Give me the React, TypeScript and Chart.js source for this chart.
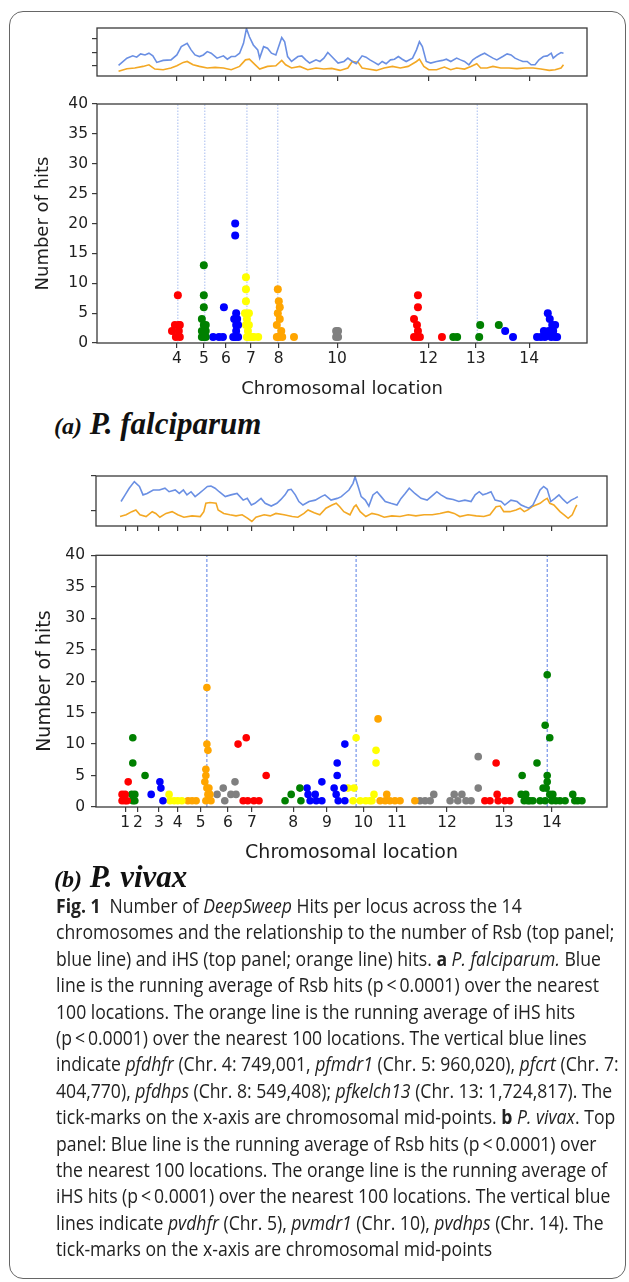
import React, { useEffect, useRef } from 'react';
import { Chart, registerables } from 'chart.js';

Chart.register(...registerables);

type Pt = [number, number];

// ================= DATA: (a) P. falciparum =================
// x = relative genome position (0-100), y = number of hits
const pfTickPos = [16.3, 21.8, 26.3, 31.4, 37.1, 49.0, 67.6, 77.3, 88.2];
const pfTickLabels = ['4', '5', '6', '7', '8', '10', '12', '13', '14'];
const pfMarkers = [16.5, 22.0, 30.6, 36.9, 77.6];

const pfChr4: Pt[] = [[15.3, 2], [15.9, 3], [16.1, 1], [16.5, 8], [16.7, 3], [16.7, 2], [16.9, 1], [16.9, 3]];
const pfChr5: Pt[] = [[21.4, 4], [21.4, 2], [21.4, 1], [21.8, 13], [21.8, 8], [21.8, 6], [21.8, 3], [21.8, 1], [22.2, 3], [22.2, 2], [22.2, 1]];
const pfChr6: Pt[] = [[23.7, 1], [24.9, 1], [25.7, 1], [25.9, 6], [28.2, 20], [28.2, 18], [27.8, 1], [28.0, 4], [28.4, 5], [28.6, 4], [28.4, 3], [28.4, 2], [28.2, 1], [28.8, 1], [28.8, 3]];
const pfChr7: Pt[] = [[30.4, 11], [30.4, 9], [30.4, 7], [30.2, 5], [31.0, 5], [30.6, 4], [30.4, 3], [30.8, 2], [30.6, 1], [31.0, 3], [31.0, 1], [31.6, 1], [32.0, 1], [32.9, 1]];
const pfChr8: Pt[] = [[36.9, 9], [37.1, 7], [37.3, 6], [36.9, 5], [37.3, 4], [36.7, 3], [37.6, 2], [37.1, 1], [37.8, 1], [36.7, 1], [40.2, 1]];
const pfChr10: Pt[] = [[48.8, 2], [49.2, 2], [48.8, 1], [49.2, 1]];
const pfChr12: Pt[] = [[65.5, 8], [65.5, 6], [64.7, 4], [65.3, 3], [65.5, 2], [64.7, 1], [65.9, 1], [65.3, 1], [70.4, 1]];
const pfChr13: Pt[] = [[72.7, 1], [73.5, 1], [78.0, 1], [78.2, 3], [82.0, 3]];
const pfChr14: Pt[] = [[83.3, 2], [84.9, 1], [89.8, 1], [90.6, 1], [91.2, 2], [91.4, 1], [92.0, 5], [92.4, 4], [92.9, 3], [93.5, 3], [92.2, 2], [93.1, 2], [92.7, 1], [93.5, 1], [93.9, 1]];

const pfGroups = [pfChr4, pfChr5, pfChr6, pfChr7, pfChr8, pfChr10, pfChr12, pfChr13, pfChr14];
const pfGroupColors = ['red', 'green', 'blue', 'yellow', 'orange', 'gray', 'red', 'green', 'blue'];

// running averages (top panel, arbitrary units)
const pfRsb: Pt[] = [[4.4, 1.02], [6.1, 1.57], [7.3, 1.74], [8.1, 1.64], [8.9, 1.89], [9.8, 1.81], [10.6, 1.94], [11.4, 1.74], [12.2, 1.25], [13.5, 1.4], [15.1, 1.44], [16.3, 1.81], [17.2, 2.43], [18.4, 2.68], [19.2, 2.19], [20.0, 1.81], [20.9, 1.69], [21.7, 1.81], [22.5, 2.06], [23.3, 1.94], [24.5, 1.57], [25.8, 1.74], [26.6, 1.49], [27.4, 1.69], [28.2, 1.69], [29.1, 1.94], [29.9, 2.68], [30.5, 3.79], [31.1, 3.17], [31.9, 2.56], [32.8, 2.19], [33.2, 1.57], [34.0, 2.43], [34.8, 2.31], [35.6, 1.94], [36.5, 1.81], [37.3, 2.68], [37.7, 3.12], [38.3, 2.8], [38.9, 1.69], [39.7, 1.32], [41.0, 1.69], [41.8, 1.74], [42.6, 1.44], [43.4, 1.2], [44.7, 1.44], [45.5, 1.32], [46.3, 1.57], [47.1, 1.99], [47.9, 1.69], [49.2, 1.2], [50.4, 1.32], [51.2, 1.57], [52.1, 1.32], [52.9, 1.15], [54.1, 1.74], [54.9, 1.64], [55.7, 1.44], [56.6, 1.25], [57.4, 1.07], [58.2, 1.32], [59.0, 1.15], [59.9, 1.44], [60.7, 1.49], [61.5, 1.69], [62.3, 1.49], [63.1, 1.32], [64.4, 1.57], [65.2, 2.19], [65.8, 2.8], [66.4, 2.43], [67.2, 1.32], [68.1, 1.2], [69.3, 1.32], [70.5, 1.4], [71.3, 1.49], [72.2, 1.32], [73.4, 1.57], [74.2, 1.44], [75.0, 1.32], [75.9, 1.07], [76.7, 1.44], [77.5, 1.64], [78.3, 1.81], [79.1, 1.94], [80.0, 1.74], [80.8, 1.57], [81.6, 1.44], [82.8, 1.69], [83.7, 1.89], [84.5, 1.81], [85.3, 1.57], [86.1, 1.44], [86.9, 1.32], [87.8, 1.32], [88.6, 1.07], [89.4, 1.07], [90.2, 1.44], [91.1, 1.69], [91.9, 1.74], [92.7, 1.94], [93.1, 1.57], [93.9, 1.81], [94.7, 1.99], [95.2, 1.94]];
const pfIhs: Pt[] = [[4.4, 0.58], [6.1, 0.78], [7.7, 0.83], [9.4, 0.95], [10.6, 1.07], [11.8, 0.75], [13.5, 0.7], [15.1, 0.83], [16.3, 1.0], [17.6, 1.25], [18.4, 1.32], [19.6, 1.07], [20.9, 0.95], [22.5, 0.83], [24.1, 0.88], [25.8, 0.83], [27.4, 0.7], [29.1, 0.95], [30.3, 1.44], [31.1, 1.49], [32.3, 1.07], [33.2, 0.75], [34.8, 0.95], [36.5, 1.0], [37.7, 1.4], [38.5, 1.07], [39.7, 0.83], [41.4, 0.95], [43.0, 0.7], [44.7, 0.83], [46.3, 0.75], [47.9, 0.8], [49.6, 0.65], [51.2, 0.83], [52.1, 1.32], [53.3, 1.25], [54.1, 0.83], [55.3, 0.75], [57.0, 0.65], [58.6, 0.83], [60.3, 0.95], [61.9, 0.83], [63.5, 0.95], [65.2, 1.32], [65.8, 1.49], [66.7, 0.95], [67.7, 0.7], [69.3, 0.7], [70.9, 0.9], [72.2, 0.7], [73.4, 0.83], [75.0, 0.75], [76.3, 0.95], [77.5, 1.15], [78.3, 0.83], [79.6, 0.83], [80.8, 0.95], [82.4, 0.83], [84.1, 0.83], [85.7, 0.78], [87.4, 0.83], [89.0, 0.83], [90.6, 0.75], [92.3, 0.65], [93.5, 0.7], [94.7, 0.83], [95.2, 1.07]];
const pfStripTicks = [1, 2, 3];

// ================= DATA: (b) P. vivax =================
const pvTickPos = [5.7, 8.2, 12.3, 16.0, 20.5, 25.8, 30.5, 38.6, 45.2, 52.3, 58.9, 68.7, 79.8, 89.2];
const pvTickLabels = ['1', '2', '3', '4', '5', '6', '7', '8', '9', '10', '11', '12', '13', '14'];
const pvMarkers = [21.7, 50.9, 88.3];

const pvChr1: Pt[] = [[5.1, 2], [5.1, 1], [5.7, 2], [5.7, 1], [6.1, 1], [6.3, 4]];
const pvChr2: Pt[] = [[7.2, 11], [7.2, 7], [7.0, 2], [7.6, 2], [7.2, 1], [7.6, 1], [9.6, 5]];
const pvChr3: Pt[] = [[10.8, 2], [12.5, 4], [12.7, 3], [13.1, 1]];
const pvChr4: Pt[] = [[14.3, 2], [14.5, 1], [15.3, 1], [16.0, 1], [16.8, 1]];
const pvChr5: Pt[] = [[18.0, 1], [18.8, 1], [19.6, 1], [21.7, 19], [21.7, 10], [21.9, 9], [21.5, 6], [21.5, 5], [21.3, 4], [21.7, 3], [22.1, 3], [21.9, 2], [22.3, 2], [21.5, 1], [22.5, 1]];
const pvChr6: Pt[] = [[23.7, 2], [24.9, 3], [25.2, 1], [26.4, 2], [27.2, 4], [27.4, 2]];
const pvChr7: Pt[] = [[27.8, 10], [29.4, 11], [28.8, 1], [29.7, 1], [30.9, 1], [31.9, 1], [33.3, 5]];
const pvChr8: Pt[] = [[37.0, 1], [38.2, 2], [39.9, 3], [40.1, 1]];
const pvChr9: Pt[] = [[41.3, 3], [41.5, 2], [41.9, 1], [42.9, 2], [43.1, 1], [44.2, 1], [44.2, 4], [46.6, 3], [47.2, 5], [47.2, 7], [47.0, 2], [47.4, 1], [48.7, 10], [48.5, 3], [48.7, 1]];
const pvChr10: Pt[] = [[49.3, 3], [50.5, 3], [50.9, 11], [50.3, 1], [51.7, 1], [52.8, 1], [54.0, 1], [54.8, 9], [54.8, 7], [54.4, 2], [53.6, 1]];
const pvChr11: Pt[] = [[55.2, 14], [55.6, 1], [56.6, 1], [56.9, 2], [57.5, 1], [58.5, 1], [59.5, 1], [62.4, 1]];
const pvChr12: Pt[] = [[63.4, 1], [64.4, 1], [65.4, 1], [66.1, 2], [69.3, 1], [70.1, 2], [70.8, 1], [71.6, 2], [72.4, 1], [73.4, 1], [74.8, 3], [74.8, 8]];
const pvChr13: Pt[] = [[76.1, 1], [77.1, 1], [78.5, 2], [78.3, 7], [78.7, 1], [80.0, 1], [81.0, 1]];
const pvChr14: Pt[] = [[83.4, 5], [86.3, 7], [87.9, 13], [88.3, 21], [88.8, 11], [88.3, 5], [88.3, 4], [88.1, 3], [88.8, 2], [83.2, 2], [83.8, 1], [84.5, 1], [85.5, 1], [86.9, 1], [87.9, 1], [89.2, 1], [90.0, 1], [90.8, 1], [91.8, 1], [93.3, 2], [93.7, 1], [94.3, 1], [95.1, 1], [89.4, 2], [87.5, 3], [84.1, 2], [84.9, 1]];

const pvGroups = [pvChr1, pvChr2, pvChr3, pvChr4, pvChr5, pvChr6, pvChr7, pvChr8, pvChr9, pvChr10, pvChr11, pvChr12, pvChr13, pvChr14];
const pvGroupColors = ['red', 'green', 'blue', 'yellow', 'orange', 'gray', 'red', 'green', 'blue', 'yellow', 'orange', 'gray', 'red', 'green'];

const pvRsb: Pt[] = [[4.9, 1.27], [5.7, 1.46], [6.5, 1.65], [7.5, 1.84], [8.5, 1.7], [9.2, 1.46], [10.0, 1.5], [11.2, 1.6], [12.4, 1.6], [13.5, 1.65], [14.3, 1.55], [15.5, 1.6], [16.3, 1.5], [17.1, 1.6], [17.8, 1.46], [18.6, 1.55], [19.4, 1.41], [20.2, 1.5], [21.0, 1.6], [21.8, 1.7], [22.5, 1.71], [23.3, 1.65], [24.1, 1.55], [25.3, 1.41], [26.4, 1.46], [27.6, 1.5], [28.8, 1.31], [29.6, 1.36], [30.4, 1.17], [31.1, 1.22], [32.3, 1.36], [33.1, 1.22], [34.3, 1.14], [35.4, 1.22], [36.2, 1.33], [37.0, 1.46], [37.6, 1.6], [38.2, 1.62], [39.0, 1.46], [39.7, 1.27], [40.5, 1.17], [41.7, 1.27], [42.9, 1.31], [44.1, 1.41], [44.8, 1.46], [46.0, 1.31], [47.2, 1.36], [48.0, 1.41], [48.7, 1.5], [49.5, 1.6], [50.3, 1.79], [50.7, 1.98], [51.3, 1.7], [51.9, 1.41], [52.7, 1.31], [53.4, 1.14], [54.2, 1.46], [55.0, 1.55], [55.8, 1.41], [56.6, 1.27], [57.7, 1.22], [58.9, 1.17], [59.7, 1.36], [60.5, 1.5], [61.3, 1.65], [62.4, 1.5], [63.6, 1.36], [64.8, 1.31], [66.0, 1.46], [66.7, 1.55], [67.5, 1.46], [68.7, 1.36], [69.9, 1.33], [71.0, 1.27], [72.2, 1.31], [73.4, 1.27], [74.2, 1.46], [75.0, 1.55], [75.7, 1.46], [76.5, 1.5], [77.3, 1.55], [78.1, 1.31], [79.3, 1.27], [80.0, 1.17], [81.2, 1.31], [82.4, 1.27], [83.2, 1.17], [84.0, 1.12], [84.7, 1.08], [85.5, 1.17], [86.3, 1.41], [86.9, 1.6], [87.6, 1.7], [88.3, 1.62], [89.0, 1.27], [89.8, 1.36], [90.6, 1.46], [91.4, 1.33], [92.2, 1.22], [93.0, 1.31], [93.7, 1.36], [94.3, 1.41]];
const pvIhs: Pt[] = [[4.7, 0.84], [5.9, 0.89], [7.0, 0.98], [7.8, 1.03], [8.6, 0.89], [9.8, 0.84], [11.0, 0.98], [11.7, 0.93], [12.5, 0.82], [13.7, 0.93], [14.9, 0.98], [16.0, 0.89], [17.2, 0.82], [18.8, 0.86], [20.4, 0.84], [21.1, 0.98], [21.5, 1.22], [22.3, 1.24], [23.5, 1.22], [23.9, 1.03], [25.0, 0.93], [26.2, 0.89], [27.4, 0.86], [28.6, 0.89], [29.7, 0.79], [30.5, 0.7], [31.3, 0.82], [32.9, 0.89], [34.1, 0.86], [35.2, 0.93], [36.8, 0.89], [38.4, 0.84], [39.5, 0.82], [40.7, 0.93], [41.5, 1.03], [42.7, 0.95], [43.8, 0.89], [45.0, 1.08], [46.2, 1.17], [47.0, 1.22], [47.7, 1.12], [48.5, 0.98], [49.7, 0.89], [50.5, 1.12], [50.9, 1.17], [51.7, 0.98], [52.8, 0.84], [54.0, 0.93], [55.2, 0.89], [56.4, 0.82], [57.9, 0.86], [59.5, 0.84], [61.1, 0.89], [62.6, 0.86], [64.2, 0.89], [65.8, 0.89], [67.3, 0.93], [68.9, 0.98], [70.1, 0.93], [71.2, 0.84], [72.8, 0.89], [74.4, 0.86], [75.9, 0.84], [77.1, 0.89], [78.3, 1.12], [79.1, 1.14], [79.8, 0.98], [81.0, 0.98], [82.2, 1.03], [83.0, 1.08], [83.8, 0.98], [84.5, 1.03], [85.3, 1.12], [86.1, 1.17], [86.9, 1.22], [87.7, 1.31], [88.3, 1.36], [88.8, 1.22], [89.6, 1.17], [90.8, 0.98], [91.6, 0.89], [92.4, 0.79], [93.2, 0.89], [93.9, 1.12], [94.1, 1.17]];
const pvStripTicks = [1, 2];

// ================= STYLE =================
const TICK_FONT = "'DejaVu Sans', sans-serif";
const AXIS_COLOR = '#3a3a3a';
const TEXT_COLOR = '#1e1e1e';
const RSB_COLOR = '#6a8fe3';
const IHS_COLOR = '#f3a824';
const COLOR_MAP: Record<string, string> = {
  red: '#ff0000', green: '#008000', blue: '#0000ff', yellow: '#ffff00', orange: '#ffa500', gray: '#808080',
};

const toXY = (pts: Pt[]) => pts.map(([x, y]) => ({ x, y }));

const frameBox = {
  id: 'frameBox',
  afterDatasetsDraw(chart: any, _args: any, opts: any) {
    const { ctx, chartArea: a } = chart;
    ctx.save();
    ctx.strokeStyle = opts.color || AXIS_COLOR;
    ctx.lineWidth = opts.width || 1.3;
    ctx.strokeRect(a.left, a.top, a.right - a.left, a.bottom - a.top);
    ctx.restore();
  },
};

interface Geo { top: number; right: number; xHeight: number; yWidth: number; }

function stripConfig(rsb: Pt[], ihs: Pt[], xTicks: number[], yTicks: number[], yMin: number, yMax: number, g: Geo): any {
  return {
    type: 'line',
    data: {
      datasets: [
        { data: toXY(rsb), borderColor: RSB_COLOR, borderWidth: 1.6, pointRadius: 0, tension: 0, fill: false },
        { data: toXY(ihs), borderColor: IHS_COLOR, borderWidth: 1.6, pointRadius: 0, tension: 0, fill: false },
      ],
    },
    options: {
      animation: false,
      responsive: false,
      layout: { padding: { left: 0, top: g.top, right: g.right, bottom: 0 } },
      plugins: { legend: { display: false }, tooltip: { enabled: false }, frameBox: { color: AXIS_COLOR, width: 1.3 } },
      scales: {
        x: {
          type: 'linear', min: 0, max: 100,
          afterBuildTicks: (s: any) => { s.ticks = xTicks.map((v) => ({ value: v })); },
          ticks: { display: false },
          grid: { drawOnChartArea: false, drawTicks: true, tickLength: 5, color: AXIS_COLOR, lineWidth: 1.2 },
          border: { display: false },
          afterFit: (s: any) => { s.height = g.xHeight; },
        },
        y: {
          type: 'linear', min: yMin, max: yMax,
          afterBuildTicks: (s: any) => { s.ticks = yTicks.map((v) => ({ value: v })); },
          ticks: { display: false },
          grid: { drawOnChartArea: false, drawTicks: true, tickLength: 5, color: AXIS_COLOR, lineWidth: 1.2 },
          border: { display: false },
          afterFit: (s: any) => { s.width = g.yWidth; },
        },
      },
    },
    plugins: [frameBox],
  };
}

interface ScatterGeo extends Geo {
  radius: number; tickSize: number; titleSize: number; yPad: number; xPad: number; xTitlePad: number; yTitlePad: number; markerColor: string; markerDash: number[];
}

function scatterConfig(groups: Pt[][], colors: string[], markers: number[], tickPos: number[], tickLabels: string[], g: ScatterGeo): any {
  const markerSets = markers.map((m) => ({
    type: 'scatter',
    data: [{ x: m, y: 0 }, { x: m, y: 40 }],
    showLine: true,
    borderColor: g.markerColor,
    borderWidth: 1,
    borderDash: g.markerDash,
    pointRadius: 0,
    order: 10,
  }));
  const pointSets = groups.map((pts, i) => ({
    type: 'scatter',
    data: toXY(pts),
    backgroundColor: COLOR_MAP[colors[i]],
    borderColor: COLOR_MAP[colors[i]],
    pointRadius: g.radius,
    pointBorderWidth: 0,
    order: 1,
  }));
  return {
    type: 'scatter',
    data: { datasets: [...markerSets, ...pointSets] },
    options: {
      animation: false,
      responsive: false,
      layout: { padding: { left: 0, top: g.top, right: g.right, bottom: 0 } },
      plugins: { legend: { display: false }, tooltip: { enabled: false }, frameBox: { color: AXIS_COLOR, width: 1.3 } },
      scales: {
        x: {
          type: 'linear', min: 0, max: 100,
          afterBuildTicks: (s: any) => { s.ticks = tickPos.map((v) => ({ value: v })); },
          ticks: {
            autoSkip: false, maxRotation: 0, minRotation: 0, padding: g.xPad,
            callback: (_v: any, i: number) => tickLabels[i],
            font: { family: TICK_FONT, size: g.tickSize }, color: TEXT_COLOR,
          },
          grid: { drawOnChartArea: false, drawTicks: true, tickLength: 5, color: AXIS_COLOR, lineWidth: 1.2 },
          border: { display: false },
          title: {
            display: true, text: 'Chromosomal location', color: TEXT_COLOR,
            font: { family: TICK_FONT, size: g.titleSize }, padding: { top: 0, bottom: g.xTitlePad },
          },
          afterFit: (s: any) => { s.height = g.xHeight; },
        },
        y: {
          type: 'linear', min: 0, max: 40,
          ticks: { stepSize: 5, padding: g.yPad, font: { family: TICK_FONT, size: g.tickSize }, color: TEXT_COLOR },
          grid: { drawOnChartArea: false, drawTicks: true, tickLength: 5, color: AXIS_COLOR, lineWidth: 1.2 },
          border: { display: false },
          title: {
            display: true, text: 'Number of hits', color: TEXT_COLOR,
            font: { family: TICK_FONT, size: g.titleSize }, padding: { top: g.yTitlePad, bottom: 0 },
          },
          afterFit: (s: any) => { s.width = g.yWidth; },
        },
      },
    },
    plugins: [frameBox],
  };
}

function ChartCanvas({ left, top, width, height, make }: { left: number; top: number; width: number; height: number; make: () => any }) {
  const ref = useRef<HTMLCanvasElement>(null);
  useEffect(() => {
    const chart = new Chart(ref.current as HTMLCanvasElement, make());
    return () => chart.destroy();
  }, []);
  return (
    <canvas ref={ref} width={width} height={height}
      style={{ position: 'absolute', left, top, width, height, display: 'block' }} />
  );
}

const captionLines: React.ReactNode[] = [
  <><b>Fig. 1</b>{'\u2002'}Number of <i>DeepSweep</i> Hits per locus across the 14</>,
  <>chromosomes and the relationship to the number of Rsb (top panel;</>,
  <>blue line) and iHS (top panel; orange line) hits. <b>a</b> <i>P. falciparum.</i> Blue</>,
  <>line is the running average of Rsb hits (p{'\u2009'}&lt;{'\u2009'}0.0001) over the nearest</>,
  <>100 locations. The orange line is the running average of iHS hits</>,
  <>(p{'\u2009'}&lt;{'\u2009'}0.0001) over the nearest 100 locations. The vertical blue lines</>,
  <>indicate <i>pfdhfr</i> (Chr. 4: 749,001, <i>pfmdr1</i> (Chr. 5: 960,020), <i>pfcrt</i> (Chr. 7:</>,
  <>404,770), <i>pfdhps</i> (Chr. 8: 549,408); <i>pfkelch13</i> (Chr. 13: 1,724,817). The</>,
  <>tick-marks on the x-axis are chromosomal mid-points. <b>b</b> <i>P. vivax</i>. Top</>,
  <>panel: Blue line is the running average of Rsb hits (p{'\u2009'}&lt;{'\u2009'}0.0001) over</>,
  <>the nearest 100 locations. The orange line is the running average of</>,
  <>iHS hits (p{'\u2009'}&lt;{'\u2009'}0.0001) over the nearest 100 locations. The vertical blue</>,
  <>lines indicate <i>pvdhfr</i> (Chr. 5), <i>pvmdr1</i> (Chr. 10), <i>pvdhps</i> (Chr. 14). The</>,
  <>tick-marks on the x-axis are chromosomal mid-points</>,
];

export default function App() {
  const panelLabel = (top: number, letter: string, name: string) => (
    <div style={{
      position: 'absolute', left: 54, top, whiteSpace: 'nowrap', color: '#111',
      fontFamily: "'Liberation Serif', 'DejaVu Serif', serif", fontStyle: 'italic', fontWeight: 'bold', lineHeight: '36px',
    }}>
      <span style={{ fontSize: 24, fontWeight: 'bold' }}>({letter})</span>
      <span style={{ fontSize: 31 }}> {name}</span>
    </div>
  );

  return (
    <div style={{ position: 'absolute', left: 0, top: 0, width: 629, height: 1282, background: '#fff', overflow: 'hidden' }}>
      <div style={{
        position: 'absolute', left: 9, top: 11, width: 617, height: 1268, boxSizing: 'border-box',
        border: '1.5px solid #666', borderRadius: 14,
      }} />

      <ChartCanvas left={0} top={18} width={629} height={72}
        make={() => stripConfig(pfRsb, pfIhs, pfTickPos, pfStripTicks, 0.23, 3.83, { top: 10, right: 42, xHeight: 14, yWidth: 97 })} />
      <ChartCanvas left={0} top={90} width={629} height={315}
        make={() => scatterConfig(pfGroups, pfGroupColors, pfMarkers, pfTickPos, pfTickLabels, {
          top: 14, right: 42, xHeight: 62, yWidth: 97, radius: 4, tickSize: 15.5, titleSize: 18, yPad: 4, xPad: 2,
          xTitlePad: 5, yTitlePad: 32.5, markerColor: 'rgba(110,145,230,0.6)', markerDash: [1.5, 1.5],
        })} />

      {panelLabel(406, 'a', 'P. falciparum')}

      <ChartCanvas left={0} top={466} width={629} height={74}
        make={() => stripConfig(pvRsb, pvIhs, pvTickPos, pvStripTicks, 0.57, 2.0, { top: 10, right: 22, xHeight: 14, yWidth: 96 })} />
      <ChartCanvas left={0} top={540} width={629} height={330}
        make={() => scatterConfig(pvGroups, pvGroupColors, pvMarkers, pvTickPos, pvTickLabels, {
          top: 15, right: 22, xHeight: 63, yWidth: 96, radius: 3.8, tickSize: 15.5, titleSize: 19, yPad: 6, xPad: 2,
          xTitlePad: 5.5, yTitlePad: 33.5, markerColor: 'rgba(60,105,225,0.85)', markerDash: [3, 2],
        })} />

      {panelLabel(859, 'b', 'P. vivax')}

      <div style={{
        position: 'absolute', left: 56, top: 893, whiteSpace: 'nowrap', color: '#222',
        fontFamily: "'Open Sans', 'Noto Sans', sans-serif", fontSize: 20, lineHeight: '26.4px',
        transform: 'scaleX(0.88)', transformOrigin: 'left top',
      }}>
        {captionLines.map((ln, i) => <div key={i}>{ln}</div>)}
      </div>
    </div>
  );
}
